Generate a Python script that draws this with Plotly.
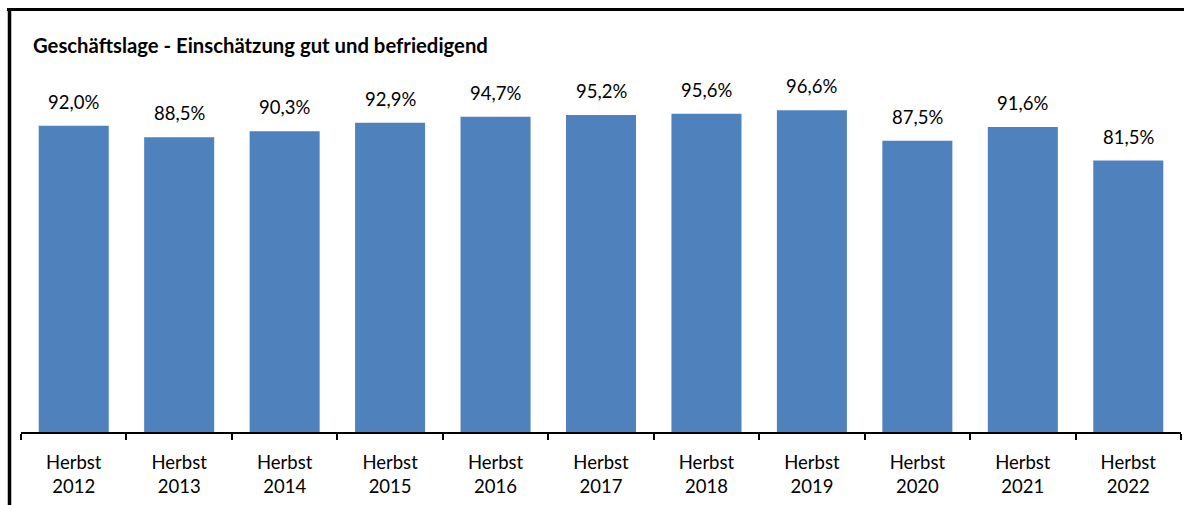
import plotly.graph_objects as go

categories = ["Herbst<br>2012", "Herbst<br>2013", "Herbst<br>2014", "Herbst<br>2015",
              "Herbst<br>2016", "Herbst<br>2017", "Herbst<br>2018", "Herbst<br>2019",
              "Herbst<br>2020", "Herbst<br>2021", "Herbst<br>2022"]
values = [92.0, 88.5, 90.3, 92.9, 94.7, 95.2, 95.6, 96.6, 87.5, 91.6, 81.5]
labels = [f"{v:.1f}%".replace(".", ",") for v in values]
title_text = "Geschäftslage - Einschätzung gut und befriedigend"

W, H = 1184, 505
L, R, T, B = 21, 3, 99, 73
pw, ph = W - L - R, H - T - B

def px(x):
    return (x - L) / pw

def py(y):
    return (H - B - y) / ph

FONT = "Lato, Carlito, Calibri, sans-serif"

fig = go.Figure(go.Bar(
    x=categories, y=values,
    marker=dict(color="#4F81BD", line=dict(width=0)),
    hoverinfo="skip",
))

for c, v, t in zip(categories, values, labels):
    fig.add_annotation(x=c, y=v, text=t, showarrow=False, xanchor="center",
                       yanchor="bottom", yshift=11,
                       font=dict(family=FONT, size=18.5, color="#000000"))

fig.update_layout(
    width=W, height=H,
    margin=dict(l=L, r=R, t=T, b=B, pad=0),
    paper_bgcolor="white", plot_bgcolor="white",
    bargap=0.336,
    showlegend=False,
    title=dict(text=f"<b>{title_text}</b>", x=33 / W, xanchor="left",
               y=1 - 46 / H, yanchor="middle", xref="container", yref="container",
               font=dict(family=FONT, size=20.3, color="#000000")),
    xaxis=dict(
        type="category", tickson="boundaries", ticks="outside", ticklen=6,
        tickwidth=2, tickcolor="#000000", showline=True, linecolor="#000000",
        linewidth=2, showgrid=False, zeroline=False, ticklabelstandoff=13,
        tickfont=dict(family=FONT, size=18.5, color="#000000"),
    ),
    yaxis=dict(range=[0, 100], visible=False, showgrid=False, zeroline=False),
    shapes=[
        dict(type="line", xref="paper", yref="paper", x0=px(7), x1=px(1184),
             y0=py(9.5), y1=py(9.5), line=dict(color="#000000", width=3)),
        dict(type="line", xref="paper", yref="paper", x0=px(9.5), x1=px(9.5),
             y0=py(8), y1=py(505), line=dict(color="#000000", width=3.5)),
    ],
)

fig.write_html("out.html", config={"displayModeBar": False},
               post_script="document.body.style.margin='0';document.body.style.overflow='hidden';")
